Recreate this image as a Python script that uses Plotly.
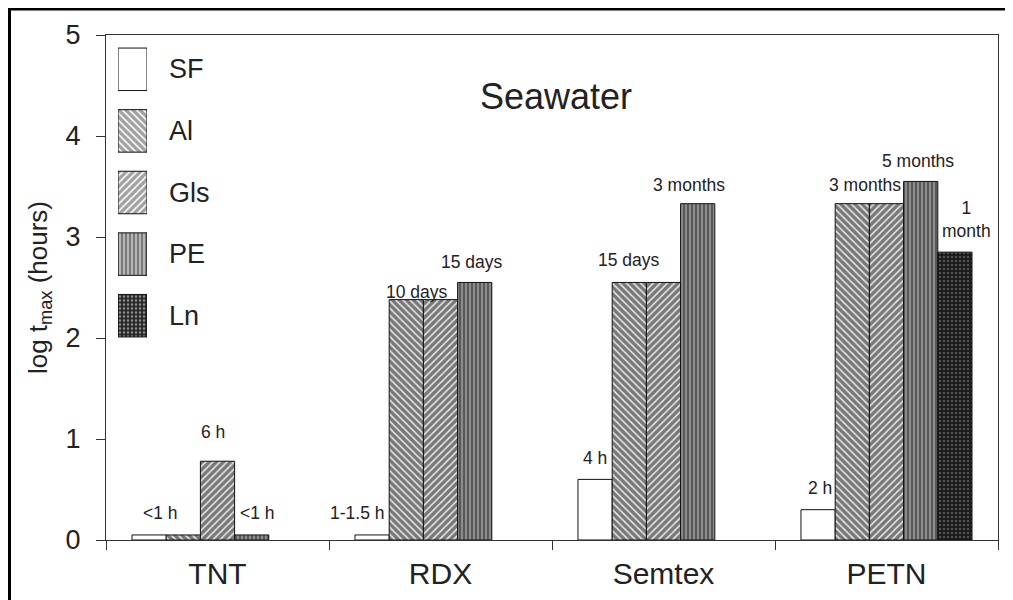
import plotly.graph_objects as go

# ---------------- data ----------------
categories = ["TNT", "RDX", "Semtex", "PETN"]
series_names = ["SF", "Al", "Gls", "PE", "Ln"]
sf_vals = [0.05, 0.05, 0.60, 0.30]
al_vals = [0.05, 2.38, 2.55, 3.33]
gls_vals = [0.78, 2.38, 2.55, 3.33]
pe_vals = [0.05, 2.55, 3.33, 3.55]
ln_vals = [None, None, None, 2.85]
series_values = [sf_vals, al_vals, gls_vals, pe_vals, ln_vals]

label_texts = ["<1 h", "6 h", "<1 h", "1-1.5 h", "10 days", "15 days",
               "4 h", "15 days", "3 months", "2 h", "3 months", "5 months",
               "1<br>month"]
label_category = ["TNT", "TNT", "TNT", "RDX", "RDX", "RDX",
                  "Semtex", "Semtex", "Semtex", "PETN", "PETN", "PETN", "PETN"]
label_series = ["SF", "Gls", "PE", "SF", "Al", "PE",
                "SF", "Al", "PE", "SF", "Al", "PE", "Ln"]
title_text = "Seawater"
y_title = "log t<sub>max</sub> (hours)"

# ---------------- layout / style ----------------
# the page adds an 8px body margin, so the figure is laid out 8px up/left
OFF = 8
W, H = 1013 - OFF, 600 - OFF
L, R, T, B = 106 - OFF, 15, 35 - OFF, 60
PW, PH = W - L - R, H - T - B   # 892 x 505

label_dx = [11, -5, 6, -15, 11, -3, 0, 0, -9, 2, 13, -3, 12]
label_dy = [22, 29, 22, 22, 8, 20, 21, 22, 19, 22, 19, 20, 33]

FONT = "Liberation Sans, Arial, sans-serif"
INK = "#222222"
BARGAP = 0.233

styles = {
    "SF": dict(color="white", shape="", fg="white", bg="white", size=6, sol=0.3),
    "Al": dict(color="white", shape="\\", fg="#0a0a0a", bg="#e6e6e6", size=5, sol=0.68),
    "Gls": dict(color="white", shape="/", fg="#0a0a0a", bg="#e6e6e6", size=5, sol=0.68),
    "PE": dict(color="#7a7a7a", shape="|", fg="#1a1a1a", bg="#8c8c8c", size=4, sol=0.45),
    "Ln": dict(color="#262626", shape=".", fg="#8a8a8a", bg="#1a1a1a", size=4, sol=0.3),
}

def px_x(px):  # page pixel -> paper x
    return (px - OFF - L) / PW

def px_y(py):  # page pixel -> paper y
    return (H - B - (py - OFF)) / PH

fig = go.Figure()

for name, vals in zip(series_names, series_values):
    st = styles[name]
    fig.add_trace(go.Bar(
        x=categories, y=vals, name=name, showlegend=False,
        marker=dict(color=st["color"], line=dict(color="#111111", width=1),
                    pattern=dict(shape=st["shape"], fgcolor=st["fg"], bgcolor=st["bg"],
                                 size=st["size"], solidity=st["sol"])),
        hoverinfo="x+y+name",
    ))

# legend drawn as boxes on a hidden axis pair
fig.add_trace(go.Bar(
    orientation="h", x=[1] * len(series_names), y=series_names, width=0.69,
    xaxis="x2", yaxis="y2", showlegend=False, hoverinfo="skip",
    marker=dict(color=[styles[n]["color"] for n in series_names],
                line=dict(color="#111111", width=1),
                pattern=dict(shape=[styles[n]["shape"] for n in series_names],
                             fgcolor=[styles[n]["fg"] for n in series_names],
                             bgcolor=[styles[n]["bg"] for n in series_names],
                             size=[styles[n]["size"] for n in series_names],
                             solidity=[styles[n]["sol"] for n in series_names])),
))

annotations = []
for n in series_names:
    annotations.append(dict(x=px_x(167), xref="paper", y=n, yref="y2",
                            text=n, showarrow=False, xanchor="left", yanchor="middle",
                            font=dict(family=FONT, size=27, color=INK)))

bar_w = (1 - BARGAP) / len(series_names)
for txt, cat, ser, dx, dy in zip(label_texts, label_category, label_series, label_dx, label_dy):
    ci = categories.index(cat)
    si = series_names.index(ser)
    val = series_values[si][ci]
    annotations.append(dict(x=ci + (si - 2) * bar_w, xref="x", y=val, yref="y",
                            text=txt, showarrow=False, xanchor="center", yanchor="middle",
                            xshift=dx, yshift=dy,
                            font=dict(family=FONT, size=17.5, color=INK)))

fig.update_layout(
    width=W, height=H,
    margin=dict(l=L, r=R, t=T, b=B, autoexpand=False),
    paper_bgcolor="white", plot_bgcolor="white",
    barmode="group", bargap=BARGAP, bargroupgap=0,
    font=dict(family=FONT, color=INK),
    title=dict(text=title_text, x=px_x(556), xref="paper", xanchor="center",
               y=1 - (96 - OFF) / H, yanchor="middle", yref="container",
               font=dict(family=FONT, size=36, color=INK)),
    xaxis=dict(type="category", tickson="boundaries", ticks="outside", ticklen=9,
               tickwidth=1, tickcolor="#333", showline=True, linecolor="#333",
               linewidth=1, mirror=True, showgrid=False, automargin=False,
               tickfont=dict(family=FONT, size=30, color=INK), ticklabelstandoff=7),
    yaxis=dict(range=[0, 5], tickvals=[0, 1, 2, 3, 4, 5], ticks="outside", ticklen=9,
               tickwidth=1, tickcolor="#333", showline=True, linecolor="#333",
               linewidth=1, mirror=True, showgrid=False, zeroline=False, automargin=False,
               tickfont=dict(family=FONT, size=27, color=INK), ticklabelstandoff=10,
               title=dict(text=y_title, font=dict(family=FONT, size=26, color=INK),
                          standoff=10)),
    xaxis2=dict(domain=[px_x(118), px_x(147)], anchor="y2",
                range=[0, 1], visible=False, fixedrange=True, automargin=False),
    yaxis2=dict(domain=[px_y(346.5), px_y(38.5)], anchor="x2",
                type="category", categoryorder="array", categoryarray=series_names,
                range=[4.5, -0.5], visible=False, fixedrange=True, automargin=False),
    annotations=annotations,
    shapes=[
        dict(type="line", xref="paper", yref="paper",
             x0=px_x(8.5), x1=px_x(1013),
             y0=px_y(9), y1=px_y(9),
             line=dict(color="black", width=3)),
        dict(type="line", xref="paper", yref="paper",
             x0=px_x(9.5), x1=px_x(9.5),
             y0=px_y(8), y1=px_y(600),
             line=dict(color="black", width=3)),
    ],
)

fig.write_html("out.html")
